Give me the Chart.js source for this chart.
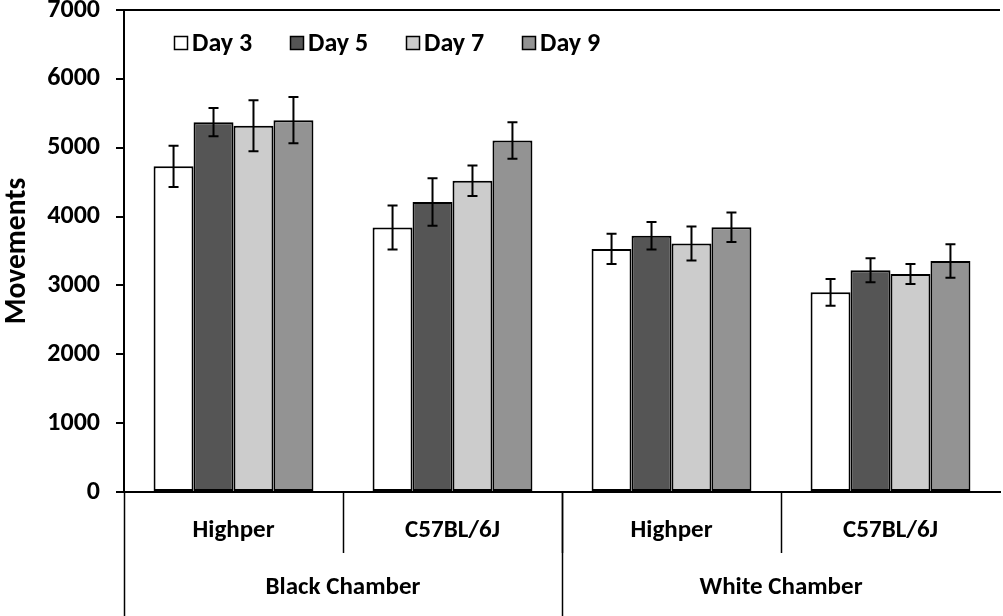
<!DOCTYPE html>
<html>
<head>
<meta charset="utf-8">
<script src="https://cdn.jsdelivr.net/npm/chart.js@4"></script>
<style>
  html, body { margin: 0; padding: 0; background: #fff; }
  #box { width: 1003px; height: 616px; position: relative; }
</style>
</head>
<body>
<div id="box"><canvas id="grafic"></canvas></div>
<script>
const categories = ['Highper', 'C57BL/6J', 'Highper', 'C57BL/6J'];
const chambers = ['Black Chamber', 'White Chamber'];
const chamberSpan = [2, 2];

const day3 = [4730, 3840, 3530, 2900];
const day3Err = [300, 320, 220, 195];
const day5 = [5370, 4210, 3720, 3220];
const day5Err = [205, 345, 200, 175];
const day7 = [5320, 4520, 3610, 3165];
const day7Err = [370, 220, 247, 145];
const day9 = [5400, 5105, 3845, 3355];
const day9Err = [335, 265, 213, 244];

const yTicks = [0, 1000, 2000, 3000, 4000, 5000, 6000, 7000];

const FONT = 'Carlito, "Liberation Sans Narrow", "Open Sans", sans-serif';
Chart.defaults.font.family = FONT;
Chart.defaults.font.weight = 'bold';
Chart.defaults.color = '#000';

// barres d'error, llegenda i etiquetes de segon nivell
const extres = {
    id: 'extres',
    afterDatasetsDraw(chart) {
        const ctx = chart.ctx;
        const y = chart.scales.y;
        ctx.save();
        ctx.strokeStyle = '#000';
        ctx.lineWidth = 2;
        chart.data.datasets.forEach((ds, d) => {
            const meta = chart.getDatasetMeta(d);
            meta.data.forEach((bar, i) => {
                const v = ds.data[i], e = ds.errors[i];
                const yt = y.getPixelForValue(v + e);
                const yb = y.getPixelForValue(v - e);
                ctx.beginPath();
                ctx.moveTo(bar.x, yt); ctx.lineTo(bar.x, yb);
                ctx.moveTo(bar.x - 5, yt); ctx.lineTo(bar.x + 5, yt);
                ctx.moveTo(bar.x - 5, yb); ctx.lineTo(bar.x + 5, yb);
                ctx.stroke();
            });
        });

        // llegenda dins l'àrea
        const area = chart.chartArea;
        const ly = area.top + 33;
        ctx.font = 'bold 26px ' + FONT;
        ctx.textAlign = 'left';
        ctx.textBaseline = 'middle';
        ctx.lineWidth = 1.5;
        chart.data.datasets.forEach((ds, d) => {
            const lx = area.left + 50 + d * 116;
            ctx.fillStyle = ds.backgroundColor;
            ctx.fillRect(lx, ly - 7, 14, 14);
            ctx.strokeRect(lx + 0.5, ly - 6.5, 13, 13);
            ctx.fillStyle = '#000';
            ctx.fillText(ds.label, lx + 18, ly + 1);
        });
        ctx.restore();
    },
    afterDraw(chart) {
        const ctx = chart.ctx;
        const x = chart.scales.x;
        const base = chart.chartArea.bottom;
        ctx.save();
        ctx.strokeStyle = '#000';
        ctx.lineWidth = 1.5;
        // línies curtes entre categories
        for (let i = 1; i < categories.length; i++) {
            const px = Math.round(x.getPixelForValue(i - 0.5)) + 0.5;
            ctx.beginPath();
            ctx.moveTo(px, base); ctx.lineTo(px, base + 61);
            ctx.stroke();
        }
        // grups de cambra
        let start = 0;
        ctx.font = 'bold 25px ' + FONT;
        ctx.fillStyle = '#000';
        ctx.textAlign = 'center';
        ctx.textBaseline = 'middle';
        chambers.forEach((name, g) => {
            const x0 = x.getPixelForValue(start - 0.5);
            const x1 = x.getPixelForValue(start + chamberSpan[g] - 0.5);
            const px = Math.round(x0) + 0.5;
            ctx.beginPath();
            ctx.moveTo(px, base); ctx.lineTo(px, chart.height);
            ctx.stroke();
            ctx.fillText(name, (x0 + x1) / 2, base + 96);
            start += chamberSpan[g];
        });
        ctx.restore();
    }
};

function serie(label, data, errors, color) {
    return {
        label, data, errors,
        backgroundColor: color,
        borderColor: '#000',
        borderWidth: 2,
        borderSkipped: false,
        categoryPercentage: 0.73,
        barPercentage: 1
    };
}

new Chart(document.getElementById('grafic'), {
    type: 'bar',
    data: {
        labels: categories,
        datasets: [
            serie('Day 3', day3, day3Err, '#ffffff'),
            serie('Day 5', day5, day5Err, '#555555'),
            serie('Day 7', day7, day7Err, '#cccccc'),
            serie('Day 9', day9, day9Err, '#939393')
        ]
    },
    options: {
        responsive: true,
        maintainAspectRatio: false,
        animation: false,
        layout: { padding: { top: 10, right: 3, left: 0, bottom: 0 } },
        plugins: {
            legend: { display: false },
            tooltip: { enabled: false }
        },
        scales: {
            x: {
                grid: { display: false },
                border: { display: true, color: '#000', width: 2 },
                ticks: { font: { size: 25, weight: 'bold' }, padding: 16, color: '#000' },
                afterFit: s => { s.height = 124; s.paddingLeft = 0; s.paddingRight = 0; }
            },
            y: {
                min: 0,
                max: 7000,
                afterBuildTicks: s => { s.ticks = yTicks.map(v => ({ value: v })); },
                grid: {
                    color: c => c.tick && c.tick.value === 7000 ? '#000' : 'transparent',
                    lineWidth: 2,
                    tickColor: '#000',
                    tickLength: 8
                },
                border: { display: true, color: '#000', width: 2 },
                ticks: {
                    font: { size: 26, weight: 'bold' },
                    padding: 16,
                    color: '#000',
                    callback: v => String(v)
                },
                title: {
                    display: true,
                    text: 'Movements',
                    font: { size: 29.5, weight: 'bold' },
                    padding: { top: 0, bottom: 0 },
                    color: '#000'
                },
                afterFit: s => { s.width = 124; s.paddingTop = 0; s.paddingBottom = 0; }
            }
        }
    },
    plugins: [extres]
});
</script>
</body>
</html>
